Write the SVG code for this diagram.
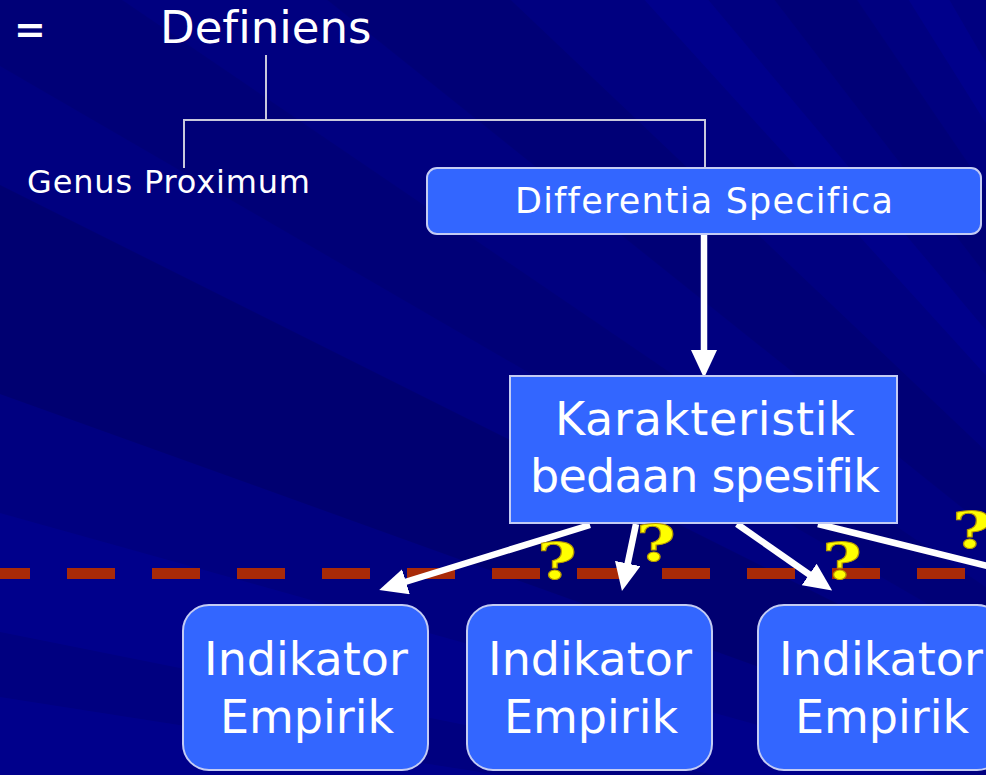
<svg xmlns="http://www.w3.org/2000/svg" width="986" height="775" viewBox="0 0 986 775">
  <defs>
    <marker id="head" viewBox="0 0 28 26" markerUnits="userSpaceOnUse" markerWidth="28" markerHeight="26" refX="1" refY="13" orient="auto">
      <path d="M0,0 L28,13 L0,26 z" fill="#ffffff"/>
    </marker>
  </defs>
  <style>
    text { font-family: "DejaVu Sans", "Liberation Sans", sans-serif; fill: #ffffff; font-variant-ligatures: none; }
    .box { fill: #3366ff; stroke: #c4ccf4; stroke-width: 2; }
    .tree { fill: none; stroke: #c8c8dc; stroke-width: 2; }
    .arrow { fill: none; stroke: #ffffff; stroke-width: 6.5; marker-end: url(#head); }
    .plain { fill: none; stroke: #ffffff; stroke-width: 6.5; }
    .dash { fill: none; stroke: #a82a08; stroke-width: 11; stroke-dasharray: 48 37; stroke-dashoffset: 18; }
    .q { font-family: "DejaVu Serif", "Liberation Serif", serif; font-weight: bold; font-size: 50px; fill: #ffff00; stroke: #b89a00; stroke-width: 1; text-anchor: middle; }
    .big { font-size: 46px; text-anchor: middle; }
  </style>

  <!-- background with faint fanned diagonal rays -->
  <g id="background">
    <rect x="0" y="0" width="986" height="775" fill="#000080"/>
    <polygon points="1490,930 -300,572 -300,429" fill="#00009a" opacity="0.45"/>
    <polygon points="1490,930 -300,930 -300,650" fill="#00009a" opacity="0.45"/>
    <polygon points="1490,930 -300,286 -300,35" fill="#000060" opacity="0.45"/>
    <polygon points="1490,930 -300,-108 -300,-287" fill="#000066" opacity="0.35"/>
    <polygon points="1490,930 -300,-502 -300,-770" fill="#000064" opacity="0.35"/>
    <polygon points="1490,930 -300,-1039 -300,-1200" fill="#00009a" opacity="0.4"/>
    <polygon points="1490,930 -300,-1397 -300,-1700" fill="#000066" opacity="0.35"/>
    <polygon points="1490,930 -300,-1934 -300,-2150" fill="#00009a" opacity="0.4"/>
  </g>

  <!-- tree lines under the heading, arrows and the boundary line -->
  <g id="connectors">
    <path class="tree" d="M266,55 V120 M184,168 V120 H705 V168"/>
    <line class="arrow" x1="704" y1="234" x2="704" y2="351"/>
    <line class="dash" x1="0" y1="573.5" x2="986" y2="573.5"/>
    <line class="arrow" x1="590" y1="525" x2="405" y2="582"/>
    <line class="arrow" x1="636" y1="524" x2="627.5" y2="564.5"/>
    <line class="arrow" x1="737" y1="524" x2="810" y2="575"/>
    <line class="plain" x1="818" y1="524" x2="1000" y2="569"/>
  </g>

  <g id="equals">
    <text x="14" y="42" font-size="38" font-weight="bold">=</text>
  </g>

  <g id="definiens">
    <text x="160" y="43" font-size="45">Definiens</text>
  </g>

  <g id="genus-proximum">
    <text x="27" y="193" font-size="32" textLength="283">Genus Proximum</text>
  </g>

  <g id="differentia-specifica">
    <rect class="box" x="427" y="168" width="554" height="66" rx="10"/>
    <text x="704" y="213" font-size="35" text-anchor="middle" textLength="378">Differentia Specifica</text>
  </g>

  <g id="karakteristik">
    <rect class="box" x="510" y="376" width="387" height="147" stroke="#dde2ff"/>
    <text class="big" x="705" y="435" textLength="300">Karakteristik</text>
    <text class="big" x="705" y="492" textLength="350">bedaan spesifik</text>
  </g>

  <g id="indikator-1">
    <rect class="box" x="183" y="605" width="245" height="165" rx="26"/>
    <text class="big" x="306" y="675">Indikator</text>
    <text class="big" x="307" y="733">Empirik</text>
  </g>

  <g id="indikator-2">
    <rect class="box" x="467" y="605" width="245" height="165" rx="26"/>
    <text class="big" x="590" y="675">Indikator</text>
    <text class="big" x="591" y="733">Empirik</text>
  </g>

  <g id="indikator-3">
    <rect class="box" x="758" y="605" width="245" height="165" rx="26"/>
    <text class="big" x="881" y="675">Indikator</text>
    <text class="big" x="882" y="733">Empirik</text>
  </g>

  <!-- question marks over the boundary line -->
  <g id="questions">
    <text class="q" transform="translate(557,579) scale(1.35,1)">?</text>
    <text class="q" transform="translate(656,561) scale(1.35,1)">?</text>
    <text class="q" transform="translate(842,579) scale(1.35,1)">?</text>
    <text class="q" transform="translate(972,548) scale(1.35,1)">?</text>
  </g>
</svg>
